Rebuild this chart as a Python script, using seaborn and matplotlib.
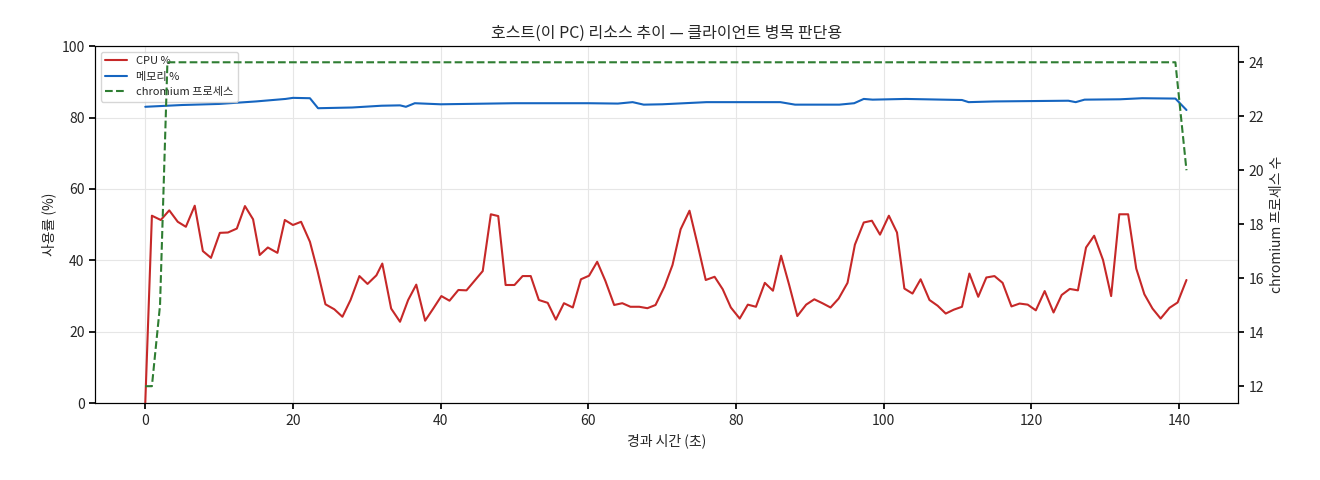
import matplotlib
matplotlib.use("Agg")
import matplotlib.pyplot as plt
import seaborn as sns
import pandas as pd

cpu_t = [0,0.9,2.1,3.25,4.4,5.5,6.7,7.8,8.9,10.1,11.2,12.4,13.5,14.6,15.5,16.6,17.9,18.9,20,21.1,22.3,23.3,24.4,25.6,26.7,27.8,29,30.1,31.3,32.1,33.3,34.5,35.6,36.7,37.9,39,40.1,41.2,42.4,43.5,44.6,45.7,46.8,47.8,48.8,50,51.1,52.2,53.3,54.5,55.6,56.7,57.9,59,60.1,61.2,62.3,63.5,64.6,65.7,66.9,68,69.1,70.3,71.4,72.5,73.7,74.8,75.9,77.1,78.2,79.3,80.5,81.6,82.7,83.9,85,86.1,87.2,88.3,89.5,90.6,91.7,92.8,93.9,95.1,96.1,97.3,98.4,99.5,100.7,101.8,102.8,103.9,105,106.2,107.3,108.4,109.5,110.6,111.6,112.8,113.9,115,116.1,117.3,118.4,119.5,120.6,121.8,123,124.1,125.2,126.3,127.4,128.5,129.7,130.8,131.9,133.1,134.2,135.3,136.4,137.5,138.7,139.8,141]
cpu = [0,52.5,51.3,54,50.8,49.4,55.3,42.6,40.7,47.7,47.8,48.9,55.2,51.5,41.5,43.6,42.1,51.3,49.9,50.8,45.2,37.3,27.7,26.3,24.2,28.9,35.6,33.4,35.8,39.1,26.5,22.8,28.9,33.2,23.1,26.5,30,28.7,31.7,31.6,34.3,37,52.9,52.4,33.1,33.1,35.6,35.6,28.9,28.1,23.4,28,26.8,34.7,35.7,39.6,34.3,27.5,28,27,27,26.6,27.5,32.6,38.7,48.7,53.9,44.4,34.5,35.4,31.9,26.8,23.7,27.6,27,33.7,31.5,41.3,33.1,24.4,27.6,29.1,28,26.8,29.3,33.7,44.4,50.6,51.1,47.2,52.5,47.8,32.1,30.7,34.7,28.9,27.3,25.1,26.2,27,36.3,29.8,35.2,35.6,33.7,27.1,27.9,27.6,26,31.4,25.4,30.3,32,31.6,43.6,46.9,40.1,30,52.9,52.9,37.7,30.5,26.5,23.7,26.7,28.2,34.5]

mem_t = [0,5,10,15,19,20,22.3,23.4,28,32,34.5,35.3,36.5,40,50,60,64,66,67.5,70,76,86,88,94,96,97.3,98.5,103,108,110.6,111.5,115,120,125,126,127.2,132,135,139.5,141]
mem = [83,83.5,83.8,84.5,85.2,85.5,85.4,82.6,82.8,83.3,83.4,83,84,83.7,84,84,83.9,84.3,83.6,83.7,84.3,84.3,83.6,83.6,84,85.2,85,85.2,85,84.9,84.3,84.5,84.6,84.7,84.3,85,85.1,85.4,85.3,82.1]

chrom_t = [0,0.9,2.0,3.0,139.5,141]
chrom = [12,12,15,24,24,20]

sns.set_theme(style="whitegrid")
plt.rcParams['font.family'] = ['Noto Sans CJK KR', 'DejaVu Sans']

fig = plt.figure(figsize=(13.2, 4.8), dpi=100)
ax = fig.add_axes([0.072, 0.16, 0.866, 0.744])
ax.set_facecolor("white")
ax.grid(True, color="#e6e6e6", linewidth=0.8)
ax.tick_params(axis="both", length=4, color="black", labelsize=10, left=True, bottom=True)

sns.lineplot(x=cpu_t, y=cpu, ax=ax, color="#c62828", linewidth=1.5, label="CPU %")
sns.lineplot(x=mem_t, y=mem, ax=ax, color="#1565c0", linewidth=1.5, label="메모리 %")
ax.set_ylim(0, 100)
ax.set_xlim(-6.8, 148)
ax.set_xlabel("경과 시간 (초)", fontsize=10)
ax.set_ylabel("사용률 (%)", fontsize=10)
ax.set_title("호스트(이 PC) 리소스 추이 — 클라이언트 병목 판단용", fontsize=11.5)

ax2 = ax.twinx()
sns.lineplot(x=chrom_t, y=chrom, ax=ax2, color="#2e7d32", linewidth=1.5, linestyle="--", label="chromium 프로세스")
ax2.set_ylim(11.37, 24.6)
ax2.grid(False)
ax2.set_ylabel("chromium 프로세스 수", fontsize=10)
ax2.tick_params(axis="y", length=4, color="black", labelsize=10, right=True)
ax2.get_legend().remove()
for a in (ax, ax2):
    for s in a.spines.values():
        s.set_color("black"); s.set_linewidth(0.8)

h1, l1 = ax.get_legend_handles_labels()
h2, l2 = ax2.get_legend_handles_labels()
ax.legend(h1 + h2, l1 + l2, loc="upper left", fontsize=8, frameon=True, framealpha=0.8)

fig.savefig("out.png", dpi=100)
